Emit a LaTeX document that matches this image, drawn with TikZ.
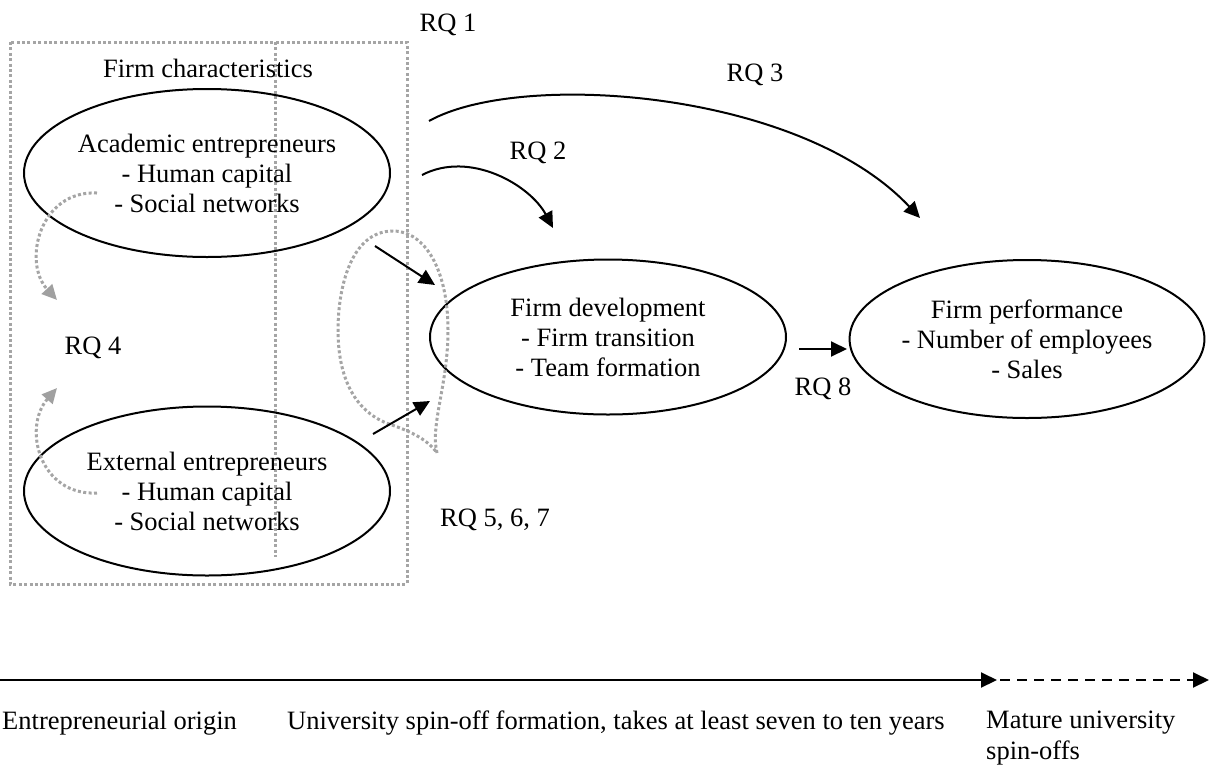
\documentclass[tikz,border=0pt]{standalone}
\usepackage{fontspec}
\setmainfont{Liberation Serif}
\usetikzlibrary{shapes.geometric,arrows.meta}
\definecolor{dotgray}{RGB}{165,165,165}
\definecolor{headgray}{RGB}{160,160,160}
\begin{document}
\begin{tikzpicture}[x=1pt,y=-1pt,
  every node/.style={font=\fontsize{26.5}{30}\selectfont, inner sep=0pt},
  oval/.style={draw, ellipse, line width=2pt, align=center},
  dotline/.style={draw=dotgray, line width=3pt, dash pattern=on 3pt off 2.4pt},
  conn/.style={line width=2pt, -{Triangle[length=16pt,width=15pt]}},
  grayconn/.style={dotline, -{Triangle[length=15pt,width=14pt,fill=headgray,color=headgray]}},
  lbl/.style={anchor=center}]
\useasboundingbox (0,0) rectangle (1212,769);
% frame
\draw[dotline] (10,42) rectangle (407,584);
\draw[dotline] (275,42) -- (275,557);
\node[lbl] (fc) at (208,68) {Firm characteristics};
\node[lbl] (rq1) at (448,25) {RQ 1};
% ellipses
\node[oval, minimum width=366pt, minimum height=168pt] (acad) at (207,173)
  {Academic entrepreneurs\\- Human capital\\- Social networks};
\node[oval, minimum width=366pt, minimum height=169pt] (ext) at (207,491)
  {External entrepreneurs\\- Human capital\\- Social networks};
\node[oval, minimum width=356pt, minimum height=155pt] (dev) at (608,337)
  {Firm development\\- Firm transition\\- Team formation};
\node[oval, minimum width=342pt, minimum height=158pt] (perf) at (1027,339)
  {Firm performance\\- Number of employees\\- Sales};
% labels
\node[lbl] (rq2) at (538,153) {RQ 2};
\node[lbl] (rq3) at (755,75) {RQ 3};
\node[lbl] (rq4) at (93,348) {RQ 4};
\node[anchor=west] (rq567) at (440,520) {RQ 5, 6, 7};
\node[lbl] (rq8) at (823,389) {RQ 8};
% dotted loop
\draw[dotline] (437,453) .. controls (430,425) and (448,385) .. (448,330)
  .. controls (448,270) and (425,231) .. (393,231)
  .. controls (350,231) and (338,290) .. (338,330)
  .. controls (338,385) and (360,415) .. (392,425)
  .. controls (412,432) and (428,440) .. (437,453);
% gray curved arrows
\coordinate (g1s) at (97,193);
\coordinate (g1e) at (57,300);
\coordinate (g2s) at (97,493);
\coordinate (g2e) at (57,388);
\draw[grayconn] (g1s) .. controls (40,190) and (22,262) .. (g1e);
\draw[grayconn] (g2s) .. controls (40,496) and (22,428) .. (g2e);
% black connectors
\coordinate (a2s) at (422,175);
\coordinate (a2e) at (553,228);
\draw[conn] (a2s) .. controls (470,150) and (530,185) .. (a2e);
\coordinate (a3s) at (429,121);
\coordinate (a3e) at (920,218);
\draw[conn] (a3s) .. controls (520,70) and (800,90) .. (a3e);
\coordinate (a4s) at (375,246);
\coordinate (a4e) at (435,285);
\draw[conn] (a4s) -- (a4e);
\coordinate (a5s) at (373,434);
\coordinate (a5e) at (430,401);
\draw[conn] (a5s) -- (a5e);
\coordinate (a8s) at (799,349);
\coordinate (a8e) at (847,349);
\draw[conn] (a8s) -- (a8e);
% timeline
\coordinate (t0) at (0,680);
\coordinate (t1) at (997,680);
\coordinate (t2) at (1209,680);
\draw[conn] (t0) -- (t1);
\draw[line width=2pt, dash pattern=on 10pt off 7pt, -{Triangle[length=16pt,width=15pt]}] ([xshift=3pt]t1) -- (t2);
\node[anchor=west] (o1) at (2,723) {Entrepreneurial origin};
\node[anchor=west] (o2) at (287,723) {University spin-off formation, takes at least seven to ten years};
\node[anchor=west] (o3) at (986,723) {Mature university};
\node[anchor=west] (o4) at (986,753) {spin-offs};
\end{tikzpicture}
\end{document}
